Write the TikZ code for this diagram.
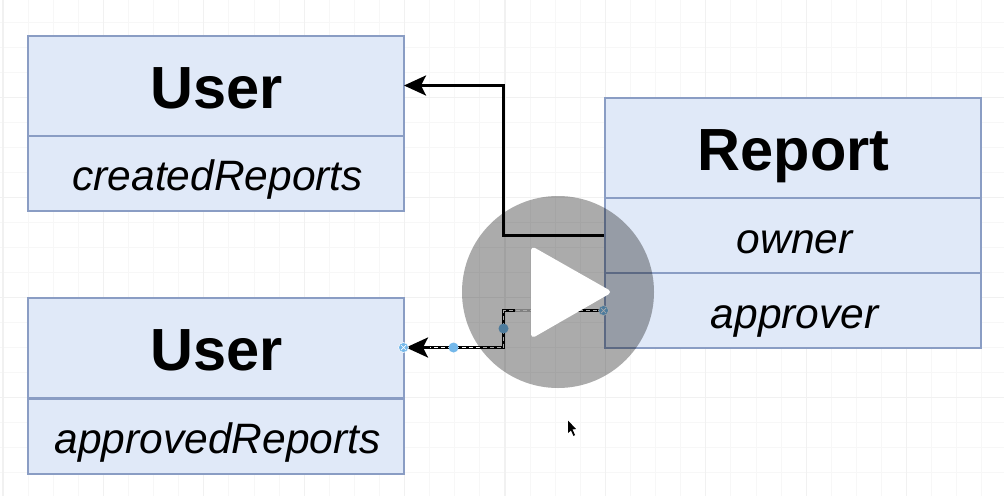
\documentclass[tikz,border=0pt]{standalone}
\usepackage{fontspec}
\setmainfont{Liberation Sans}
\usetikzlibrary{arrows.meta,calc}
\definecolor{boxfill}{HTML}{E0E9F8}
\definecolor{boxline}{HTML}{8A9DC4}
\definecolor{gridminor}{HTML}{F7F7F7}
\definecolor{gridmajor}{HTML}{F1F1F1}
\definecolor{handle}{HTML}{74B8EA}
\tikzset{
  x=1pt,y=-1pt,
  head/.style={draw=boxline,fill=boxfill,line width=2.4pt,minimum width=376pt,minimum height=100pt,inner sep=0pt,anchor=north west,text height=45pt,text depth=0pt,font=\fontsize{59.5}{59.5}\selectfont\bfseries,execute at begin node={\hspace*{2pt}}},
  attr/.style={draw=boxline,fill=boxfill,line width=2.4pt,minimum width=376pt,minimum height=75pt,inner sep=0pt,anchor=north west,text height=35pt,text depth=0pt,font=\fontsize{42.5}{42.5}\selectfont\itshape,execute at begin node={\hspace*{4pt}}},
  conn/.style={draw=black,line width=3pt,-{Stealth[inset=5pt,length=22pt,width=20pt]}},
  dashover/.style={draw=white,line width=.9pt,dash pattern=on 4pt off 3pt},
  dot/.style={circle,fill=handle,minimum size=10pt,inner sep=0pt},
  endmark/.style={circle,fill=handle,draw=white,line width=.5pt,minimum size=10pt,inner sep=0pt},
}
\begin{document}
\begin{tikzpicture}
\useasboundingbox (0,0) rectangle (1004,496);
\fill[white] (0,0) rectangle (1004,496);
\foreach \i in {0,...,40} {
  \draw[gridminor,line width=1pt] ({3+25.1*\i},0) -- ({3+25.1*\i},496);
}
\foreach \i in {0,...,20} {
  \draw[gridminor,line width=1pt] (0,{-3+25.05*\i}) -- (1004,{-3+25.05*\i});
}
\foreach \i in {0,...,9} {
  \draw[gridmajor,line width=1.2pt] ({3+100.4*\i},0) -- ({3+100.4*\i},496);
}
\foreach \i in {0,...,4} {
  \draw[gridmajor,line width=1.2pt] (0,{-3+100.2*\i}) -- (1004,{-3+100.2*\i});
}
\node[head] (user1) at (26.5,34.5) {User};
\node[attr] (created) at (26.5,134.5) {createdReports};
\node[head] (user2) at (26.5,297) {User};
\node[attr] (approved) at (26.5,397.5) {approvedReports};
\node[head] (report) at (603.5,97) {Report};
\node[attr] (owner) at (603.5,197) {owner};
\node[attr] (approver) at (603.5,272) {approver};
\coordinate (elbowA) at (503.5,85.5);
\coordinate (elbowB) at (503.5,235.5);
\coordinate (startA) at (603.5,235.5);
\coordinate (endA) at (404,85.5);
\coordinate (startB) at (603.5,310.5);
\coordinate (bendB1) at (503.5,310.5);
\coordinate (bendB2) at (503.5,347.5);
\coordinate (endB) at (406,347.5);
\draw[conn] (startA) -- (elbowB) -- (elbowA) -- (endA);
\draw[conn] (startB) -- (bendB1) -- (bendB2) -- (endB);
\draw[dashover] (startB) -- (bendB1) -- (bendB2) -- (430,347.5);
\node[dot] (waypoint) at (453.5,347.5) {};
\node[dot] (midpoint) at (503.5,328.5) {};
\draw[white,opacity=.75,line width=3.5pt] (515,310.5) -- (572,310.5);
\node[dot,fill=handle!20] (faint) at (554,310.5) {};
\node[endmark] (handleA) at (403.5,347.5) {};
\draw[white,line width=.7pt] ($(handleA)+(-2.5,-2.5)$) -- ($(handleA)+(2.5,2.5)$) ($(handleA)+(-2.5,2.5)$) -- ($(handleA)+(2.5,-2.5)$);
\node[endmark] (handleB) at (603.5,310.5) {};
\draw[white,line width=.7pt] ($(handleB)+(-2.5,-2.5)$) -- ($(handleB)+(2.5,2.5)$) ($(handleB)+(-2.5,2.5)$) -- ($(handleB)+(2.5,-2.5)$);
\fill[black,opacity=.33] (558,292) circle (96);
\path[fill=white,draw=white,line width=5pt,line join=round] (533.5,250) -- (607.5,292) -- (533.5,334.5) -- cycle;
\fill[black] (568,420.5) -- (568,433) -- (571,430.5) -- (573.5,436) -- (575,435) -- (572.5,429.5) -- (576,429) -- cycle;
\end{tikzpicture}
\end{document}
